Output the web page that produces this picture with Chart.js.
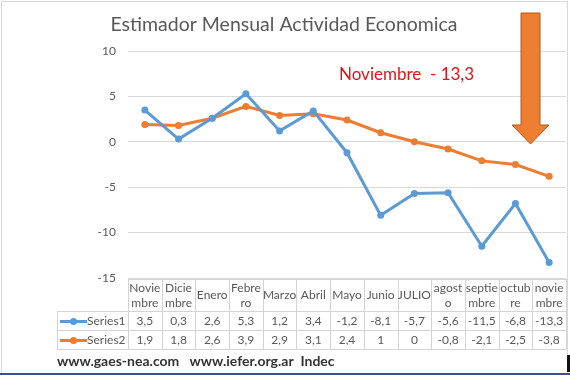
<!DOCTYPE html>
<html>
<head>
<meta charset="utf-8">
<script src="https://cdn.jsdelivr.net/npm/chart.js@4.4.1/dist/chart.umd.min.js"></script>
<style>
	html, body { margin: 0; padding: 0; background: #fff; }
	#wrap { width: 570px; height: 375px; position: relative; }
</style>
</head>
<body>
<div id="wrap"><canvas id="actividadChart" width="570" height="375"></canvas></div>
<script>
// chart data
const categories = [
	["Novie", "mbre"], ["Dicie", "mbre"], ["Enero"], ["Febre", "ro"], ["Marzo"], ["Abril"],
	["Mayo"], ["Junio"], ["JULIO"], ["agost", "o"], ["septie", "mbre"], ["octub", "re"], ["novie", "mbre"]
];
const series1 = [3.5, 0.3, 2.6, 5.3, 1.2, 3.4, -1.2, -8.1, -5.7, -5.6, -11.5, -6.8, -13.3];
const series2 = [1.9, 1.8, 2.6, 3.9, 2.9, 3.1, 2.4, 1, 0, -0.8, -2.1, -2.5, -3.8];
const seriesNames = ["Series1", "Series2"];
const yMin = -15;
const yMax = 10;
const yStep = 5;
const chartTitle = "Estimador Mensual Actividad Economica";
const noteText = "Noviembre  - 13,3";
const footerText = "www.gaes-nea.com   www.iefer.org.ar  Indec";

const FONT = "Lato, 'Open Sans', sans-serif";
const colors = ["#5B9BD5", "#ED7D31"];

function fmt(v) {
	return String(v).replace(".", ",");
}

// draws title, note, arrow, data table and footer around the plot
const extrasPlugin = {
	id: "extras",
	beforeDraw(chart) {
		const ctx = chart.ctx;
		ctx.save();
		ctx.fillStyle = "#fff";
		ctx.fillRect(0, 0, chart.width, chart.height);
		ctx.strokeStyle = "#d9d9d9";
		ctx.lineWidth = 1;
		ctx.strokeRect(1.5, 1.5, 566, 380);
		ctx.fillStyle = "#2f5597";
		ctx.fillRect(0, 373, 570, 2);
		ctx.fillStyle = "#111";
		ctx.fillRect(567, 355, 3, 17);
		ctx.restore();
	},
	afterDraw(chart) {
		const ctx = chart.ctx;
		const xs = chart.scales.x;
		const area = chart.chartArea;
		ctx.save();

		// title
		ctx.fillStyle = "#595959";
		ctx.font = "19.5px " + FONT;
		ctx.textAlign = "center";
		ctx.textBaseline = "middle";
		ctx.fillText(chartTitle, 284, 25);

		// red note
		ctx.fillStyle = "#e3131b";
		ctx.font = "17px " + FONT;
		ctx.textAlign = "left";
		ctx.fillText(noteText, 339, 75);

		// arrow
		ctx.beginPath();
		ctx.moveTo(521, 13);
		ctx.lineTo(540, 13);
		ctx.lineTo(540, 125);
		ctx.lineTo(549, 125);
		ctx.lineTo(530.5, 144);
		ctx.lineTo(512, 125);
		ctx.lineTo(521, 125);
		ctx.closePath();
		ctx.fillStyle = "#ED7D31";
		ctx.fill();
		ctx.strokeStyle = "#ae5a21";
		ctx.lineWidth = 1;
		ctx.stroke();

		// data table
		const half = (xs.getPixelForValue(1) - xs.getPixelForValue(0)) / 2;
		const top = area.bottom + 1;
		const headBottom = 311.5;
		const rowH = 19;
		const legendLeft = 57;
		const right = area.right;
		ctx.strokeStyle = "#d4d4d4";
		ctx.lineWidth = 1;
		ctx.beginPath();
		ctx.moveTo(area.left, top + 0.5);
		ctx.lineTo(right, top + 0.5);
		for (let r = 0; r < 3; r++) {
			const y = headBottom + r * rowH;
			ctx.moveTo(legendLeft, y);
			ctx.lineTo(right, y);
		}
		ctx.moveTo(legendLeft + 0.5, headBottom);
		ctx.lineTo(legendLeft + 0.5, headBottom + 2 * rowH);
		for (let i = 0; i <= categories.length; i++) {
			const x = Math.round(xs.getPixelForValue(i) - half) + 0.5;
			ctx.moveTo(x, top);
			ctx.lineTo(x, headBottom + 2 * rowH);
		}
		ctx.stroke();

		ctx.fillStyle = "#595959";
		ctx.font = "12px " + FONT;
		ctx.textAlign = "center";
		ctx.textBaseline = "middle";
		categories.forEach((lines, i) => {
			const cx = xs.getPixelForValue(i);
			const mid = (top + headBottom) / 2;
			lines.forEach((txt, k) => {
				const y = mid + (k - (lines.length - 1) / 2) * 15;
				ctx.fillText(txt, cx, y);
			});
		});
		[series1, series2].forEach((vals, r) => {
			const y = headBottom + r * rowH + rowH / 2 + 0.5;
			vals.forEach((v, i) => {
				ctx.fillText(fmt(v), xs.getPixelForValue(i), y);
			});
			// legend key
			ctx.strokeStyle = colors[r];
			ctx.lineWidth = 3;
			ctx.beginPath();
			ctx.moveTo(60, y);
			ctx.lineTo(87, y);
			ctx.stroke();
			ctx.fillStyle = colors[r];
			ctx.beginPath();
			ctx.arc(73.5, y, 3.5, 0, Math.PI * 2);
			ctx.fill();
			ctx.fillStyle = "#595959";
			ctx.textAlign = "left";
			ctx.fillText(seriesNames[r], 87, y);
			ctx.textAlign = "center";
		});

		// footer
		ctx.fillStyle = "#333";
		ctx.font = "bold 14px " + FONT;
		ctx.textAlign = "left";
		ctx.fillText(footerText, 57, 361);
		ctx.restore();
	},
};

const ctx = document.getElementById("actividadChart").getContext("2d");
const myChart = new Chart(ctx, {
	type: "line",
	data: {
		labels: categories,
		datasets: [series1, series2].map((vals, i) => ({
			label: seriesNames[i],
			data: vals,
			borderColor: colors[i],
			backgroundColor: colors[i],
			pointBackgroundColor: colors[i],
			pointBorderColor: colors[i],
			borderWidth: 3,
			pointRadius: 3.5,
			pointBorderWidth: 0,
			tension: 0,
		})),
	},
	options: {
		responsive: false,
		animation: false,
		events: [],
		layout: { padding: { top: 51, bottom: 97, left: 0, right: 3 } },
		plugins: {
			legend: { display: false },
			title: { display: false },
			tooltip: { enabled: false },
		},
		scales: {
			x: {
				type: "category",
				display: false,
				offset: true,
			},
			y: {
				min: yMin,
				max: yMax,
				afterFit: (scale) => {
					scale.width = 128;
				},
				ticks: {
					stepSize: yStep,
					padding: 12,
					color: "#595959",
					font: { family: FONT, size: 12 },
				},
				grid: { color: "#d9d9d9", drawTicks: false },
				border: { display: false },
			},
		},
	},
	plugins: [extrasPlugin],
});
</script>
</body>
</html>
